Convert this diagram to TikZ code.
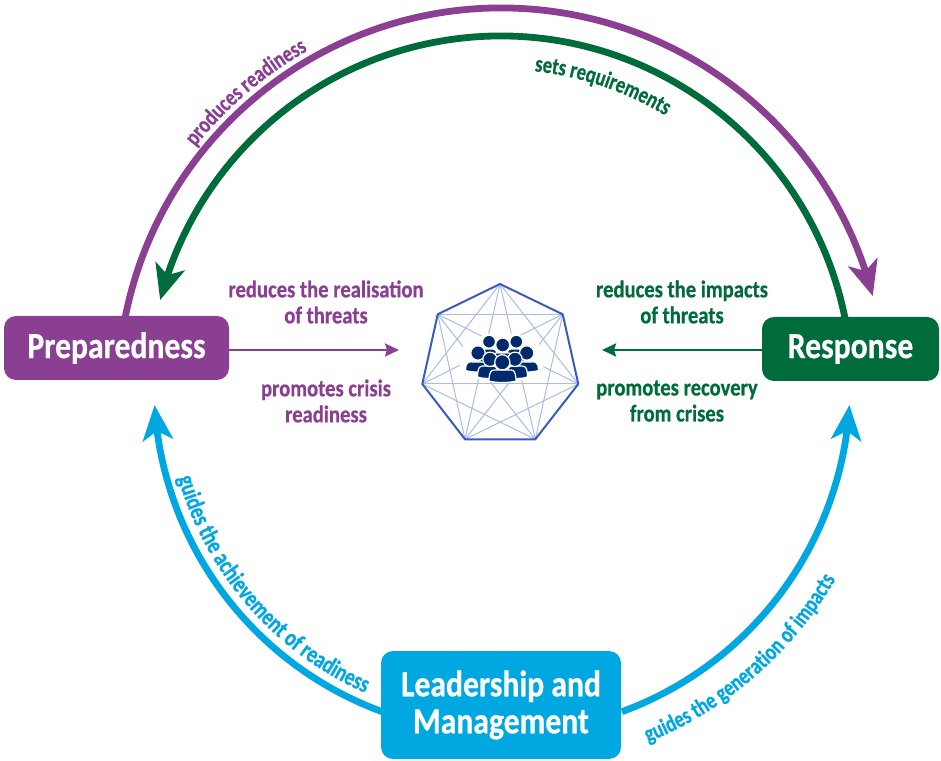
\documentclass[tikz,border=0pt]{standalone}
\usepackage{fontspec}
\setmainfont[FakeStretch=0.86,BoldFeatures={FakeBold=0.6}]{Carlito}
\newfontfamily\arcf[FakeStretch=0.79,BoldFeatures={FakeBold=0.6}]{Carlito}
\usetikzlibrary{arrows.meta,bending,decorations.text}
\definecolor{pur}{HTML}{8A3F92}
\definecolor{grn}{HTML}{006B3B}
\definecolor{blu}{HTML}{00A7E1}
\definecolor{hepo}{HTML}{3A5BBE}
\definecolor{hepi}{HTML}{AABBE8}
\definecolor{navy}{HTML}{002A6C}
\tikzset{
 titlebox/.style={rounded corners=12pt,text=white,font=\fontsize{36.8}{39}\selectfont\bfseries,align=center,inner sep=0pt},
 lbl/.style={font=\fontsize{24}{26}\selectfont\bfseries,align=center,inner sep=0pt},
 bigarc/.style={line width=6.8pt},
 thinarr/.style={line width=2.4pt,-{Stealth[length=14pt,width=13pt,inset=2pt]}},
 bighead/.style={-{Stealth[length=35pt,width=30pt,inset=9pt,flex]}},
}
\newcommand{\pers}[7]{% head x y r, body x1 x2 ytop ybottom (y-up)
 \fill[navy,draw=white,line width=1.2pt] (#4,#7) .. controls (#4,#6+2) and (#4+5,#6) .. (#4+8,#6) -- (#5-8,#6) .. controls (#5-5,#6) and (#5,#6+2) .. (#5,#7) .. controls (#5-6,#7-2) and (#4+6,#7-2) .. cycle;
 \fill[navy,draw=white,line width=1.2pt] (#1,#2) circle[radius=#3];
}
\begin{document}
\begin{tikzpicture}[x=1pt,y=1pt]
\useasboundingbox (0,0) rectangle (941,760);
% boxes
\node[titlebox,fill=pur,minimum width=225pt,minimum height=64pt] (prep) at (116.5,412) {\raisebox{-2pt}{Preparedness}};
\node[titlebox,fill=grn,minimum width=177pt,minimum height=64pt] (resp) at (850.5,411) {\raisebox{-1pt}{Response}};
\node[titlebox,fill=blu,minimum width=240pt,minimum height=108pt] (lead) at (501,55) {\raisebox{-3pt}{Leadership and}\\[-1pt]\raisebox{-2pt}{Management}};
% arc ends
\coordinate[shift={(501.4,368.6)}] (pS) at (169:383.4);
\coordinate[shift={(500.5,372.6)}] (gS) at (11.4:351.4);
\coordinate[shift={(502,375)}] (lS) at (249.85:348);
\coordinate[shift={(502,375)}] (rS) at (-69.85:348);
\draw[pur,bigarc,bighead] (pS) arc[start angle=169,end angle=14.4,radius=383.4];
\draw[grn,bigarc,bighead] (gS) arc[start angle=11.4,end angle=165.6,radius=351.4];
\draw[blu,bigarc,bighead] (lS) arc[start angle=249.85,end angle=183.3,radius=348];
\draw[blu,bigarc,bighead] (rS) arc[start angle=-69.85,end angle=-3.3,radius=348];
% heptagon
\coordinate (h1) at (500,476);
\coordinate (h2) at (562.7,445.7);
\coordinate (h3) at (578.3,376);
\coordinate (h4) at (535.3,320.7);
\coordinate (h5) at (465,320.7);
\coordinate (h6) at (422.3,376);
\coordinate (h7) at (437.7,445.7);
\foreach \a/\b in {1/3,1/4,1/5,1/6,2/4,2/5,2/6,2/7,3/5,3/6,3/7,4/6,4/7,5/7}
  \draw[hepi,line width=1pt] (h\a) -- (h\b);
\draw[hepo,line width=2pt,line join=round] (h1) -- (h2) -- (h3) -- (h4) -- (h5) -- (h6) -- (h7) -- cycle;
\fill[white] (502,402) ellipse[x radius=44,y radius=25];
% people
\pers{489}{418.3}{6.5}{480}{498}{411}{398}
\pers{516.3}{418.3}{6.5}{506}{524}{411}{398}
\pers{502.7}{415}{7}{492}{513}{407}{398}
\pers{478}{407}{7.2}{465.5}{490}{398}{389.5}
\pers{526.7}{407}{7.2}{514}{538.5}{398}{389.5}
\pers{490}{400.7}{7.2}{477.5}{498}{394}{383}
\pers{515}{400.7}{7.2}{507}{527.5}{394}{383}
\pers{502.3}{397.7}{7.6}{489}{516}{390}{379}
% straight arrows
\coordinate (pE) at (399,410);
\coordinate (gE) at (602,410);
\draw[pur,thinarr] (pE -| prep.east) -- (pE);
\draw[grn,thinarr] (gE -| resp.west) -- (gE);
% labels
\node[lbl,text=pur] (l1) at (326,458) {reduces the realisation\\of threats};
\node[lbl,text=pur] (l2) at (326,359) {promotes crisis\\readiness};
\node[lbl,text=grn] (l3) at (682,458) {reduces the impacts\\of threats};
\node[lbl,text=grn] (l4) at (677,359) {promotes recovery\\from crises};
% arc labels
\path[shift={(501.4,368.6)},decorate,decoration={text along path,text align={align=center},text={|\fontsize{23.5}{26}\selectfont\arcf\bfseries\color{pur}|produces readiness}}] (150:392) arc[start angle=150,end angle=111,radius=392];
\path[shift={(500.5,372.6)},decorate,decoration={text along path,text align={align=center},text={|\fontsize{23.5}{26}\selectfont\arcf\bfseries\color{grn}|sets requirements}}] (91.3:318) arc[start angle=91.3,end angle=51.3,radius=318];
\path[shift={(502,375)},decorate,decoration={text along path,text align={align=center},text={|\fontsize{24.5}{26}\selectfont\arcf\bfseries\color{blu}|guides the achievement of readiness}}] (189:337) arc[start angle=189,end angle=253,radius=337];
\path[shift={(502,375)},decorate,decoration={text along path,text align={align=center},text={|\fontsize{23.5}{26}\selectfont\arcf\bfseries\color{blu}|guides the generation of impacts}}] (-77:386) arc[start angle=-77,end angle=-21,radius=386];
\end{tikzpicture}
\end{document}
